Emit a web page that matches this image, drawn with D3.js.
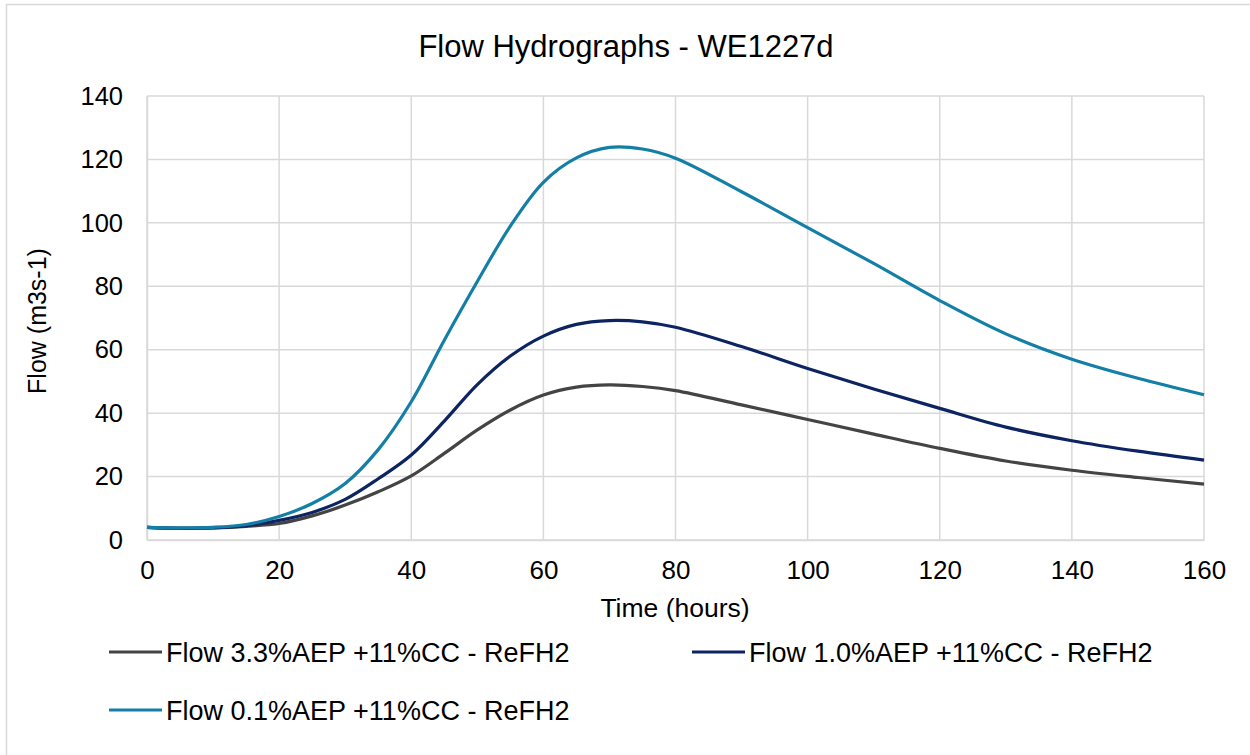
<!DOCTYPE html>
<html lang="en">
	<head>
		<meta charset="UTF-8">
		<title>Flow Hydrographs</title>
		<script src="https://cdnjs.cloudflare.com/ajax/libs/d3/7.8.5/d3.min.js"></script>
		<style>
			body { margin: 0; background: #fff; }
			text { font-family: "Liberation Sans", Arial, sans-serif; fill: #000; }
		</style>
	</head>
	<body>
		<svg id="chart" width="1250" height="755"></svg>
		<script>
// hours
var times = [0, 5, 10, 15, 20, 25, 30, 35, 40, 45, 50, 55, 60, 65, 70, 75, 80, 90, 100, 110, 120, 130, 140, 150, 160];

// flow m3/s
var flow33 = [4, 3.7, 3.8, 4.3, 5.2, 7.6, 11, 15.2, 20.2, 27.3, 34.7, 41, 45.7, 48.2, 48.9, 48.4, 47.1, 42.6, 38, 33.4, 28.9, 24.9, 22, 19.7, 17.6];
var flow10 = [4, 3.7, 3.8, 4.5, 6.2, 8.7, 12.8, 19.3, 26.8, 37.5, 49, 58, 64.3, 68, 69.2, 68.8, 67.1, 61, 54.1, 47.6, 41.5, 35.6, 31.3, 28, 25.2];
var flow01 = [4, 3.8, 4, 4.9, 7.4, 11.5, 17.8, 28.5, 43.6, 63, 81.5, 99, 112.8, 120.5, 123.8, 123.3, 120.4, 109.8, 98.5, 87.2, 75.5, 65, 57, 51, 45.8];

var seriesNames = ["Flow 3.3%AEP +11%CC - ReFH2", "Flow 1.0%AEP +11%CC - ReFH2", "Flow 0.1%AEP +11%CC - ReFH2"];
var seriesColors = ["#444444", "#0c2461", "#137fa6"];

var xTicks = [0, 20, 40, 60, 80, 100, 120, 140, 160];
var yTicks = [0, 20, 40, 60, 80, 100, 120, 140];

function draw() {
	var svg = d3.select("#chart");
	var grid = "#d9d9d9";

	// chart frame
	svg.append("rect").attr("x", 6.5).attr("y", 4.5).attr("width", 1300).attr("height", 800)
		.attr("fill", "#fff").attr("stroke", grid).attr("stroke-width", 1.5);

	var scX = d3.scaleLinear().domain([0, 160]).range([147, 1204]);
	var scY = d3.scaleLinear().domain([0, 140]).range([540, 96]);

	// gridlines
	svg.append("g").selectAll("line").data(yTicks).enter()
		.append("line")
		.attr("x1", scX(0)).attr("x2", scX(160))
		.attr("y1", d => scY(d)).attr("y2", d => scY(d))
		.attr("stroke", grid).attr("stroke-width", 1.5);
	svg.append("g").selectAll("line").data(xTicks).enter()
		.append("line")
		.attr("y1", scY(0)).attr("y2", scY(140))
		.attr("x1", d => scX(d)).attr("x2", d => scX(d))
		.attr("stroke", grid).attr("stroke-width", 1.5);

	// axes (labels only, lines are the gridlines)
	var axX = d3.axisBottom(scX).tickValues(xTicks).tickSize(0).tickPadding(21);
	var gx = svg.append("g").attr("transform", `translate(0,${scY(0)})`).call(axX);
	gx.select(".domain").attr("stroke", grid).attr("stroke-width", 1.5);
	gx.selectAll("text").attr("font-size", 26).style("font-family", "Liberation Sans, Arial, sans-serif");

	var axY = d3.axisLeft(scY).tickValues(yTicks).tickSize(0).tickPadding(24);
	var gy = svg.append("g").attr("transform", `translate(${scX(0)},0)`).call(axY);
	gy.select(".domain").attr("stroke", grid).attr("stroke-width", 1.5);
	gy.selectAll("text").attr("font-size", 25.5).style("font-family", "Liberation Sans, Arial, sans-serif");

	// series
	var allFlows = [flow33, flow10, flow01];
	var lnMkr = d3.line().curve(d3.curveCatmullRom.alpha(0.5))
		.x((d, i) => scX(times[i]))
		.y(d => scY(d));
	svg.append("g").selectAll("path").data(allFlows).enter()
		.append("path")
		.attr("fill", "none")
		.attr("stroke", (d, i) => seriesColors[i])
		.attr("stroke-width", 3.2)
		.attr("stroke-linejoin", "round")
		.attr("d", d => lnMkr(d));

	// titles
	svg.append("text").attr("x", 626).attr("y", 57).attr("text-anchor", "middle")
		.attr("font-size", 31).text("Flow Hydrographs - WE1227d");
	svg.append("text").attr("x", 675).attr("y", 617).attr("text-anchor", "middle")
		.attr("font-size", 26.5).text("Time (hours)");
	svg.append("text").attr("transform", "translate(46,321) rotate(-90)").attr("text-anchor", "middle")
		.attr("font-size", 25).text("Flow (m3s-1)");

	// legend
	var legPos = [[109, 652], [692, 652], [109, 710]];
	var leg = svg.append("g").selectAll("g").data(seriesNames).enter()
		.append("g")
		.attr("transform", (d, i) => `translate(${legPos[i][0]},${legPos[i][1]})`);
	leg.append("line").attr("x1", 0).attr("x2", 53).attr("y1", 0).attr("y2", 0)
		.attr("stroke", (d, i) => seriesColors[i]).attr("stroke-width", 3.2);
	leg.append("text").attr("x", 57).attr("y", 9.5).attr("font-size", 27).text(d => d);
}
draw();
		</script>
	</body>
</html>
